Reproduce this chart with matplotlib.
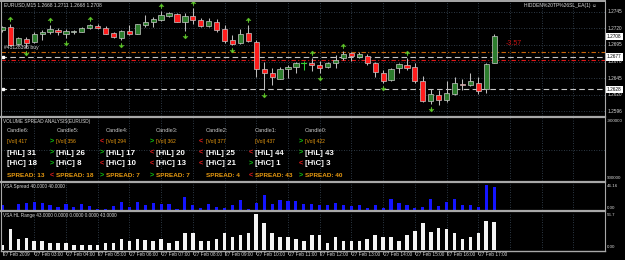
import matplotlib
matplotlib.use("Agg")
import matplotlib.pyplot as plt
from matplotlib import font_manager
from matplotlib.lines import Line2D
from matplotlib.patches import Rectangle
from matplotlib.path import Path

# ---------------- data ----------------
title_text = "EURUSD,M15 1.2668 1.2711 1.2668 1.2708"
ea_text = "HIDDEN%20TP%26SL_EA(1) \u263A"
order_text = "#43128395 buy"
profit_text = "-3.57"

opens = [1.2717, 1.2722, 1.2697, 1.2704, 1.2699, 1.2711, 1.2715, 1.2718, 1.2712, 1.2714,
         1.2715, 1.2721, 1.2724, 1.2721, 1.2713, 1.2706, 1.2716, 1.2712, 1.2725, 1.2729,
         1.2733, 1.2738, 1.2741, 1.2730, 1.2738, 1.2732, 1.2724, 1.2730, 1.2719, 1.2702,
         1.2698, 1.2713, 1.2700, 1.2658, 1.2653, 1.2644, 1.2658, 1.2661, 1.2667, 1.2667,
         1.2664, 1.2661, 1.2667, 1.2675, 1.2683, 1.2677, 1.2679, 1.2667, 1.2652, 1.2642,
         1.2660, 1.2665, 1.2662, 1.2640, 1.2610, 1.2619, 1.2612, 1.2621, 1.2636, 1.2634,
         1.2638, 1.2628, 1.2668]
highs = [1.2724, 1.2726, 1.2707, 1.2707, 1.2714, 1.2718, 1.2725, 1.2720, 1.2719, 1.2718,
         1.2722, 1.2727, 1.2726, 1.2723, 1.2714, 1.2717, 1.2725, 1.2727, 1.2740, 1.2737,
         1.2746, 1.2745, 1.2743, 1.2743, 1.2750, 1.2735, 1.2735, 1.2734, 1.2725, 1.2710,
         1.2719, 1.2725, 1.2702, 1.2670, 1.2660, 1.2661, 1.2665, 1.2670, 1.2671, 1.2675,
         1.2671, 1.2669, 1.2680, 1.2686, 1.2684, 1.2684, 1.2681, 1.2669, 1.2657, 1.2660,
         1.2667, 1.2675, 1.2667, 1.2648, 1.2628, 1.2627, 1.2640, 1.2646, 1.2644, 1.2653,
         1.2646, 1.2667, 1.2711]
lows = [1.2715, 1.2694, 1.2695, 1.2690, 1.2698, 1.2702, 1.2712, 1.2710, 1.2705, 1.2712,
        1.2714, 1.2719, 1.2719, 1.2711, 1.2705, 1.2702, 1.2710, 1.2711, 1.2722, 1.2722,
        1.2731, 1.2737, 1.2730, 1.2716, 1.2726, 1.2722, 1.2722, 1.2714, 1.2698, 1.2695,
        1.2696, 1.2699, 1.2647, 1.2627, 1.2635, 1.2644, 1.2645, 1.2652, 1.2657, 1.2655,
        1.2652, 1.2660, 1.2660, 1.2672, 1.2671, 1.2675, 1.2665, 1.2646, 1.2638, 1.2641,
        1.2653, 1.2657, 1.2637, 1.2609, 1.2606, 1.2605, 1.2609, 1.2620, 1.2627, 1.2633,
        1.2621, 1.2622, 1.2668]
closes = [1.2722, 1.2695, 1.2705, 1.2698, 1.2712, 1.2715, 1.2719, 1.2715, 1.2716, 1.2716,
          1.2721, 1.2725, 1.2720, 1.2711, 1.2707, 1.2716, 1.2712, 1.2726, 1.2730, 1.2734,
          1.2740, 1.2743, 1.2730, 1.2738, 1.2732, 1.2723, 1.2731, 1.2718, 1.2701, 1.2697,
          1.2712, 1.2701, 1.2658, 1.2652, 1.2646, 1.2658, 1.2662, 1.2667, 1.2667, 1.2664,
          1.2660, 1.2667, 1.2673, 1.2681, 1.2678, 1.2681, 1.2667, 1.2654, 1.2641, 1.2658,
          1.2666, 1.2660, 1.2640, 1.2610, 1.2621, 1.2612, 1.2622, 1.2638, 1.2634, 1.2640,
          1.2625, 1.2666, 1.2708]

up_fractal_bars = [1, 6, 11, 20, 24, 31, 39, 43, 51]
down_fractal_bars = [3, 8, 15, 23, 29, 33, 40, 48, 54]

# VSA Spread (close - low, pips) and HL Range (high - low, pips)
vsa_spread = [7, 0, 10, 11, 13, 12, 7, 5, 10, 4, 9, 6, 1, 1, 6, 13, 4, 13, 7, 12,
              10, 9, 1, 22, 7, 2, 9, 5, 3, 7, 16, 1, 12, 25, 10, 16, 14, 14, 10, 9,
              7, 7, 12, 7, 6, 7, 3, 7, 2, 18, 12, 7, 2, 4, 19, 6, 13, 18, 7, 7,
              4, 43, 40]
hl_range = [8, 31, 16, 18, 13, 13, 11, 10, 11, 8, 8, 7, 8, 10, 10, 17, 14, 17, 15, 13,
            17, 11, 13, 25, 25, 14, 14, 16, 26, 19, 23, 25, 54, 41, 25, 20, 19, 16, 14, 22,
            22, 11, 20, 14, 14, 14, 16, 22, 19, 20, 13, 22, 28, 41, 27, 34, 31, 26, 17, 20,
            25, 44, 43]

price_ticks = [1.2745, 1.2720, 1.2695, 1.2670, 1.2645, 1.2620, 1.2595]
price_tick_labels = ["1.2745", "1.2720", "1.2695", "1.2670", "1.2645", "1.2620", "1.2596"]
bid_price = 1.2708
order_prices = [1.2677, 1.2628]
level_orange = 1.2684
level_red = 1.2672

time_label_bars = [0, 4, 8, 12, 16, 20, 24, 28, 32, 36, 40, 44, 48, 52, 56, 60]
time_labels = ["27 Feb 2009", "27 Feb 03:00", "27 Feb 04:00", "27 Feb 05:00",
               "27 Feb 06:00", "27 Feb 07:00", "27 Feb 08:00", "27 Feb 09:00",
               "27 Feb 10:00", "27 Feb 11:00", "27 Feb 12:00", "27 Feb 13:00",
               "27 Feb 14:00", "27 Feb 15:00", "27 Feb 16:00", "27 Feb 17:00"]

vsa_header = "VOLUME SPREAD ANALYSIS(EURUSD)"
vsa_candles = ["Candle6:", "Candle5:", "Candle4:", "Candle3:", "Candle2:", "Candle1:", "Candle0:"]
vsa_vol = [417, 356, 294, 362, 377, 437, 422]
vsa_vol_arrow = ["", ">", "<", ">", "<", "", ">"]
vsa_hl = [31, 26, 17, 20, 25, 44, 43]
vsa_hl_arrow = ["", ">", ">", "<", "<", "<", ">"]
vsa_hc = [18, 8, 10, 13, 21, 1, 3]
vsa_hc_arrow = ["", ">", "<", "<", "<", ">", "<"]
vsa_sp = [13, 18, 7, 7, 4, 43, 40]
vsa_sp_arrow = ["", "<", ">", ">", "", "<", ">"]

spread_name = "VSA Spread 40.0000 40.0000"
range_name = "VSA HL Range 43.0000 0.0000 0.0000 0.0000 43.0000"
spread_axis_labels = ["46.16", "0.00"]
range_axis_labels = ["56.7", "0.00"]
vsa_axis_labels = ["-900000", "900000"]
spread_max = 46.16
range_max = 56.7

# ---------------- layout ----------------
W, H = 625, 260
fig = plt.figure(figsize=(W / 100, H / 100), dpi=100, facecolor="black")

_names = {f.name for f in font_manager.fontManager.ttflist}
NARROW = "Liberation Sans Narrow" in _names
UI = "Liberation Sans Narrow" if NARROW else "Liberation Sans"
REG = "Liberation Sans"


def ui(s):
    return s / 0.82 if NARROW else s


BAR_PX = 7.93
X0_PX = 2.5
AX_L, AX_R = 1.5, 605.0
XLIM = ((AX_L - X0_PX) / BAR_PX, (AX_R - X0_PX) / BAR_PX)

GRID = "#3c4c5c"
SEP = "#a8a8a8"
TXT = "#d8d8d8"


def add_ax(y0, y1):
    ax = fig.add_axes([AX_L / W, 1 - y1 / H, (AX_R - AX_L) / W, (y1 - y0) / H])
    ax.set_facecolor("black")
    ax.set_xlim(*XLIM)
    for s in ax.spines.values():
        s.set_visible(False)
    ax.set_xticks([])
    ax.set_yticks([])
    return ax


def ftext(x, y, s, **kw):
    kw.setdefault("va", "center")
    kw.setdefault("ha", "left")
    return fig.text(x / W, 1 - y / H, s, **kw)


def hline_px(y, x0=0.5, x1=AX_R, color=SEP, lw=1.4):
    fig.add_artist(Line2D([x0 / W, x1 / W], [1 - y / H, 1 - y / H], color=color, lw=lw,
                          transform=fig.transFigure))


def vgrid(ax):
    for b in time_label_bars[1:] + [64, 68, 72]:
        ax.axvline(b, color=GRID, lw=0.6, ls=(0, (1, 2)), zorder=0)


# ---------- main price chart ----------
PY0, PY1 = 2.0, 116.0
SCALE = 6640.0  # px per price unit
p_top = 1.2745 + (11.7 - PY0) / SCALE
p_bot = 1.2745 - (PY1 - 11.7) / SCALE
ax = add_ax(PY0, PY1)
ax.set_ylim(p_bot, p_top)
vgrid(ax)
for p in price_ticks:
    ax.axhline(p, color=GRID, lw=0.6, ls=(0, (1, 2)), zorder=0)

# order / level lines
ax.axhline(level_orange, color="#c8640a", lw=0.8, ls=(0, (4, 2, 1, 2)), zorder=1)
ax.axhline(level_red, color="#e01818", lw=0.8, ls=(0, (4, 2, 1, 2)), zorder=1)
for p in order_prices:
    ax.axhline(p, color="#c8c8c8", lw=0.8, ls=(0, (5, 3)), zorder=1)
    ax.plot([XLIM[0] + 0.25], [p], marker="s", ms=2.0, color="white", mec="white", zorder=5)

bw = 0.66
for k, (o, h, l, c) in enumerate(zip(opens, highs, lows, closes)):
    doji = abs(c - o) < 0.00005
    wick_col = "#33cc33" if doji else "#bcbcbc"
    ax.plot([k, k], [l, h], color=wick_col, lw=0.75, zorder=2, solid_capstyle="butt")
    if doji:
        ax.plot([k - bw / 2, k + bw / 2], [o, o], color="#33cc33", lw=0.8, zorder=3)
    else:
        bull = c > o
        ax.add_patch(Rectangle((k - bw / 2, min(o, c)), bw, abs(c - o),
                               facecolor="#2d7d2d" if bull else "#ff1c1c",
                               edgecolor="#c8c8c8", lw=0.5, zorder=3))

up_arrow = Path([(0, 1), (-1, -0.1), (-0.3, 0.2), (0, -1), (0.3, 0.2), (1, -0.1), (0, 1)],
                [Path.MOVETO, Path.LINETO, Path.LINETO, Path.LINETO, Path.LINETO, Path.LINETO,
                 Path.CLOSEPOLY])
down_arrow = Path([(x, -y) for x, y in up_arrow.vertices], up_arrow.codes)
OFF = 5.0 / SCALE
ax.plot(up_fractal_bars, [highs[k] + OFF for k in up_fractal_bars], ls="none",
        marker=up_arrow, ms=3.6, color="#5fc82a", mec="#5fc82a", mew=0.3, zorder=4)
ax.plot(down_fractal_bars, [lows[k] - OFF for k in down_fractal_bars], ls="none",
        marker=down_arrow, ms=3.6, color="#5fc82a", mec="#5fc82a", mew=0.3, zorder=4)

ax.text(XLIM[0] + 0.3, order_prices[0] + 9.5 / SCALE, order_text, color=TXT,
        fontsize=ui(3.6), family=UI, va="center", ha="left", zorder=6)
ax.text(63.5, bid_price - 7 / SCALE, profit_text, color="#c81414", fontsize=5.0,
        family=REG, va="center", ha="left", zorder=6)

ftext(4, 5.2, title_text, color=TXT, fontsize=ui(3.6), family=UI)
ftext(597, 5.2, ea_text, color=TXT, fontsize=ui(3.6), family=[UI, "DejaVu Sans"], ha="right")

# right price scale
ytr = ax.get_yaxis_transform()
for p, s in zip(price_ticks, price_tick_labels):
    ax.text(1.004, p, s, transform=ytr, color=TXT, fontsize=ui(3.4), family=UI,
            va="center", ha="left", clip_on=False)
for p in [bid_price] + order_prices:
    ax.text(1.003, p, "%.4f" % p, transform=ytr, color="black", fontsize=ui(3.4), family=UI,
            va="center", ha="left", clip_on=False, zorder=10,
            bbox=dict(boxstyle="square,pad=0.25", fc="white", ec="white", lw=0))

# ---------- VSA analysis panel ----------
ax2 = add_ax(118.5, 181.0)
ax2.set_ylim(0, 1)
vgrid(ax2)
ax2.axhline(0.5, color=GRID, lw=0.6, ls=(0, (1, 2)), zorder=0)
ftext(3, 121.5, vsa_header, color=TXT, fontsize=ui(3.4), family=UI)
GREEN, RED, ORANGE = "#10c010", "#e01c1c", "#e89a10"
for c in range(7):
    x = 6.7 + 49.7 * c
    ftext(x, 130.5, vsa_candles[c], color="#c8c8c8", fontsize=4.1, family=REG)
    rows = [(141.7, vsa_vol_arrow[c], "[Vol] %d" % vsa_vol[c], ORANGE, 3.6, "normal"),
            (153.3, vsa_hl_arrow[c], "[H\\L] %d" % vsa_hl[c], "white", 5.7, "bold"),
            (163.6, vsa_hc_arrow[c], "[H\\C] %d" % vsa_hc[c], "white", 5.7, "bold"),
            (175.8, vsa_sp_arrow[c], "SPREAD: %d" % vsa_sp[c], ORANGE, 4.6, "bold")]
    for y, arr, s, col, fs, wt in rows:
        if arr:
            ftext(x - 6.5, y, arr, color=GREEN if arr == ">" else RED, fontsize=5.2,
                  family=REG, weight="bold")
        ftext(x, y, s, color=col, fontsize=fs, family=REG, weight=wt)
ftext(607, 121.5, vsa_axis_labels[0], color=TXT, fontsize=ui(3.2), family=UI)
ftext(607, 178.0, vsa_axis_labels[1], color=TXT, fontsize=ui(3.2), family=UI)

# ---------- VSA Spread panel ----------
ax3 = add_ax(183.0, 209.5)
ax3.set_ylim(0, spread_max)
vgrid(ax3)
ax3.bar(range(len(vsa_spread)), vsa_spread, width=0.4, color="#1414ff", zorder=2)
ftext(3, 186.5, spread_name, color=TXT, fontsize=ui(3.4), family=UI)
ftext(607, 186.0, spread_axis_labels[0], color=TXT, fontsize=ui(3.2), family=UI)
ftext(607, 208.0, spread_axis_labels[1], color=TXT, fontsize=ui(3.2), family=UI)

# ---------- VSA HL Range panel ----------
ax4 = add_ax(212.5, 250.0)
ax4.set_ylim(0, range_max)
vgrid(ax4)
ax4.bar(range(len(hl_range)), hl_range, width=0.45, color="#f4f4f4", zorder=2)
ftext(3, 216.0, range_name, color=TXT, fontsize=ui(3.4), family=UI)
ftext(607, 214.5, range_axis_labels[0], color=TXT, fontsize=ui(3.2), family=UI)
ftext(607, 247.5, range_axis_labels[1], color=TXT, fontsize=ui(3.2), family=UI)

# ---------- time axis ----------
for b, s in zip(time_label_bars, time_labels):
    xp = X0_PX + BAR_PX * b
    fig.add_artist(Line2D([xp / W, xp / W], [1 - 250.5 / H, 1 - 254 / H], color=SEP, lw=0.6,
                          transform=fig.transFigure))
    ftext(xp + 0.8, 255.0, s, color=TXT, fontsize=ui(3.4), family=UI)

# separators and frame
hline_px(1.0)
hline_px(117.3, lw=1.6)
hline_px(182.0, lw=1.6)
hline_px(211.3, lw=1.6)
hline_px(250.5, lw=1.0)
fig.add_artist(Line2D([0.7 / W, 0.7 / W], [1 - 1 / H, 1 - 250.5 / H], color=SEP, lw=0.8,
                      transform=fig.transFigure))
fig.add_artist(Line2D([AX_R / W, AX_R / W], [1 - 1 / H, 1 - 250.5 / H], color=SEP, lw=0.8,
                      transform=fig.transFigure))

fig.savefig("out.png", dpi=100, facecolor="black")
